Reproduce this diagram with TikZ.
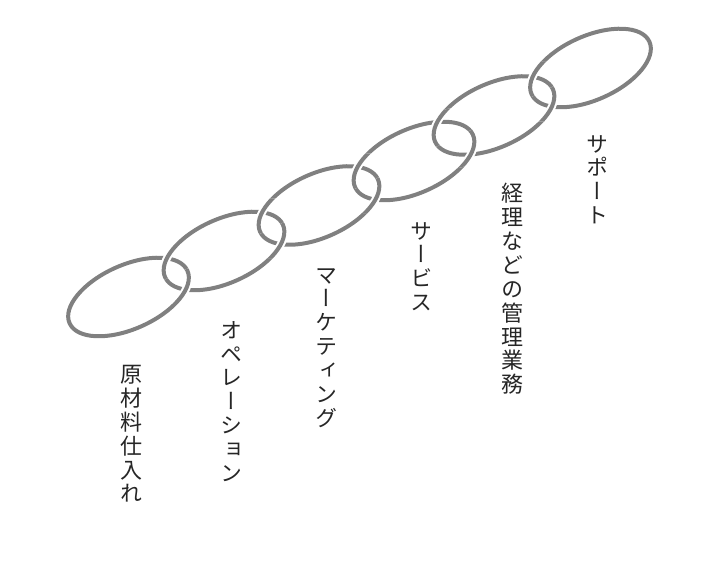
\documentclass[tikz,border=0pt]{standalone}
\usepackage{fontspec}
\newfontfamily\jpv[RawFeature=+vert]{Noto Sans CJK JP}
\usetikzlibrary{calc}
\definecolor{linkgray}{RGB}{128,128,128}
\definecolor{textgray}{RGB}{38,38,38}
\newcommand\chainellipse[2][]{\draw[#1, rotate around={24:(#2)}] (#2) ellipse [x radius=64.5pt, y radius=32pt];}
\begin{document}
\begin{tikzpicture}[x=1pt,y=1pt,
  link/.style={draw=linkgray, line width=4pt},
  halo/.style={draw=white, line width=8pt},
  col/.style={font=\jpv\fontsize{22pt}{23.9pt}\selectfont, align=center, inner sep=0pt, anchor=north, text=textgray}]
\useasboundingbox (0,0) rectangle (709,564);
\coordinate (c1) at (128.5,267);
\coordinate (c2) at (224,313);
\coordinate (c3) at (319,358.5);
\coordinate (c4) at (414,403);
\coordinate (c5) at (494,448.5);
\coordinate (c6) at (590.5,496);
\foreach \i in {1,...,6} {\chainellipse[link]{c\i}}
\foreach \i/\j in {1/2,2/3,3/4,4/5,5/6}{
  \coordinate (m) at ($(c\i)!0.5!(c\j)$);
  \begin{scope}
    \clip (m) circle (30pt);
    \clip ($(m)+(25.5:60pt)$) -- ($(m)+(70.5:85pt)$) -- ($(m)+(160.5:85pt)$) -- ($(m)+(205.5:60pt)$) -- cycle;
    \chainellipse[halo]{c\j}
    \chainellipse[link]{c\j}
  \end{scope}
  \begin{scope}
    \clip (m) circle (30pt);
    \clip ($(m)+(205.5:60pt)$) -- ($(m)+(250.5:85pt)$) -- ($(m)+(340.5:85pt)$) -- ($(m)+(25.5:60pt)$) -- cycle;
    \chainellipse[halo]{c\i}
    \chainellipse[link]{c\i}
  \end{scope}
}
\node[col] (t1) at (131,199) {原\\材\\料\\仕\\入\\れ};
\node[col] (t2) at (231,243) {オ\\ペ\\レ\\ー\\シ\\ョ\\ン};
\node[col] (t3) at (326,296) {マ\\ー\\ケ\\テ\\ィ\\ン\\グ};
\node[col] (t4) at (421,342) {サ\\ー\\ビ\\ス};
\node[col] (t5) at (512,381) {経\\理\\な\\ど\\の\\管\\理\\業\\務};
\node[col] (t6) at (597,429) {サ\\ポ\\ー\\ト};
\end{tikzpicture}
\end{document}
